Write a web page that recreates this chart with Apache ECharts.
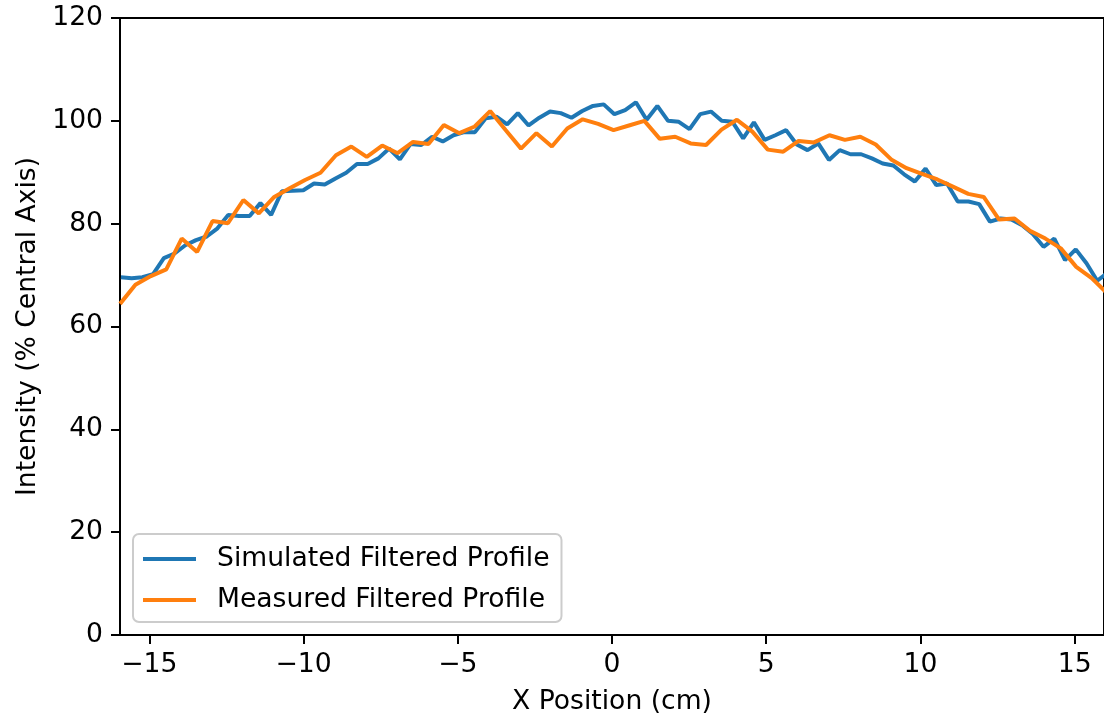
<!DOCTYPE html>
<html><head><meta charset="utf-8">
<script src="https://cdn.jsdelivr.net/npm/echarts@6/dist/echarts.min.js"></script>
<style>html,body{margin:0;padding:0;background:#fff}#c{width:1104px;height:721px}</style>
</head><body><div id="c"></div>
<script>
// Tick labels
const xTicks = [-15, -10, -5, 0, 5, 10, 15];
const yTicks = [0, 20, 40, 60, 80, 100, 120];

// Simulated profile: sample grid start / spacing (cm) and values (% central axis)
const simStart = -15.92;
const simStep = 0.3478;
const simulated = [
  69.6, 69.4, 69.6, 70.2, 73.3, 74.2, 75.8, 76.8, 77.5, 79.1,
  81.7, 81.5, 81.5, 84.0, 81.7, 86.3, 86.4, 86.5, 87.8, 87.6,
  88.8, 89.9, 91.6, 91.6, 92.7, 94.6, 92.5, 95.5, 95.3, 96.9,
  96.0, 97.2, 97.8, 97.8, 100.5, 100.8, 99.3, 101.5, 99.1, 100.6,
  101.8, 101.5, 100.6, 101.9, 102.9, 103.2, 101.3, 102.1, 103.6, 100.2,
  102.9, 100.0, 99.8, 98.4, 101.3, 101.8, 100.0, 99.8, 96.6, 99.7,
  96.3, 97.2, 98.2, 95.4, 94.3, 95.6, 92.4, 94.3, 93.5, 93.5,
  92.7, 91.7, 91.3, 89.6, 88.2, 90.7, 87.5, 87.8, 84.3, 84.3,
  83.8, 80.4, 81.0, 80.8, 79.7, 78.0, 75.5, 77.1, 72.9, 75.0,
  72.3, 68.9, 70.5
];

// Measured profile: sample grid start / spacing (cm) and values
const measStart = -15.95;
const measStep = 0.5;
const measured = [
  64.4, 68.1, 69.8, 71.1, 77.1, 74.5, 80.5, 80.1, 84.6, 82.0,
  85.2, 86.9, 88.5, 89.9, 93.3, 95.0, 93.0, 95.2, 93.7, 95.9,
  95.5, 99.2, 97.6, 98.9, 101.9, 98.2, 94.6, 97.6, 95.0, 98.5,
  100.3, 99.4, 98.2, 99.1, 100.0, 96.5, 96.9, 95.6, 95.3, 98.3,
  100.2, 97.9, 94.4, 94.0, 96.1, 95.8, 97.2, 96.3, 96.9, 95.4,
  92.5, 90.8, 89.7, 88.6, 87.2, 85.8, 85.2, 80.8, 81.0, 78.6,
  77.1, 75.2, 71.6, 69.4, 66.5
];

const seriesNames = ['Simulated Filtered Profile', 'Measured Filtered Profile'];
const colors = ['#1f77b4', '#ff7f0e'];

const simData = simulated.map((v, i) => [+(simStart + i * simStep).toFixed(4), v]);
const measData = measured.map((v, i) => [+(measStart + i * measStep).toFixed(4), v]);

const FONT = 'DejaVu Sans';
const FS = 26.6;
const minus = v => String(v).replace('-', '\u2212');

const chart = echarts.init(document.getElementById('c'), null, {renderer: 'canvas'});
chart.setOption({
  animation: false,
  backgroundColor: '#ffffff',
  textStyle: {fontFamily: FONT},
  grid: {left: 120, right: -3, top: 18, bottom: 86, show: true, borderColor: '#000', borderWidth: 2, backgroundColor: 'transparent'},
  xAxis: {
    type: 'value', min: -15.95, max: 15.95,
    name: 'X Position (cm)', nameLocation: 'middle', nameGap: 54,
    nameTextStyle: {fontFamily: FONT, fontSize: FS, color: '#000'},
    axisLine: {show: true, onZero: false, lineStyle: {color: '#000', width: 2}},
    axisTick: {show: true, inside: false, length: 9, lineStyle: {color: '#000', width: 2}, customValues: xTicks},
    axisLabel: {show: true, margin: 17, fontFamily: FONT, fontSize: FS, color: '#000', customValues: xTicks, formatter: minus},
    splitLine: {show: false}
  },
  yAxis: {
    type: 'value', min: 0, max: 120, interval: 20,
    name: 'Intensity (% Central Axis)', nameLocation: 'middle', nameGap: 70,
    nameTextStyle: {fontFamily: FONT, fontSize: FS, color: '#000'},
    axisLine: {show: true, onZero: false, lineStyle: {color: '#000', width: 2}},
    axisTick: {show: true, inside: false, length: 9, lineStyle: {color: '#000', width: 2}},
    axisLabel: {show: true, margin: 17, fontFamily: FONT, fontSize: FS, color: '#000', customValues: yTicks},
    splitLine: {show: false}
  },
  legend: {
    orient: 'vertical', left: 133, top: 534,
    padding: [10, 12, 7, 10], itemGap: 11,
    itemWidth: 53, itemHeight: 4, icon: 'rect',
    backgroundColor: 'rgba(255,255,255,0.8)', borderColor: '#cccccc', borderWidth: 2, borderRadius: 6,
    textStyle: {fontFamily: FONT, fontSize: FS, color: '#000', lineHeight: 30, padding: [0, 0, 0, 16]},
    data: seriesNames
  },
  series: [
    {name: seriesNames[0], type: 'line', data: simData, showSymbol: false, symbol: 'none', clip: true,
     lineStyle: {color: colors[0], width: 4}, itemStyle: {color: colors[0]}},
    {name: seriesNames[1], type: 'line', data: measData, showSymbol: false, symbol: 'none', clip: true,
     lineStyle: {color: colors[1], width: 4}, itemStyle: {color: colors[1]}}
  ]
});
</script>
</body></html>
